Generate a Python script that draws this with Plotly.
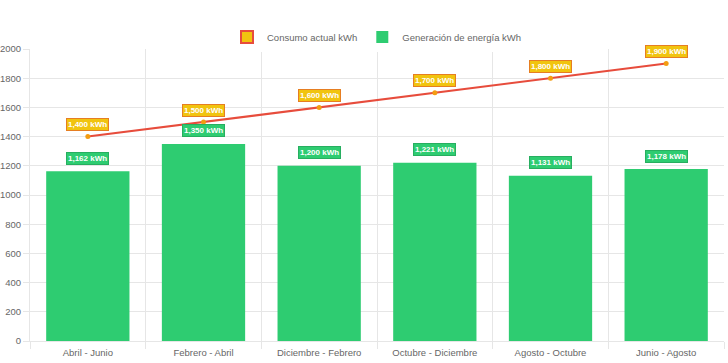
import plotly.graph_objects as go

categories = ["Abril - Junio", "Febrero - Abril", "Diciembre - Febrero",
              "Octubre - Diciembre", "Agosto - Octubre", "Junio - Agosto"]
consumo = [1400, 1500, 1600, 1700, 1800, 1900]
generacion = [1162, 1350, 1200, 1221, 1131, 1178]
y_ticks = [0, 200, 400, 600, 800, 1000, 1200, 1400, 1600, 1800, 2000]

FONT = "Liberation Sans, Arial, sans-serif"
fig = go.Figure()

# legend-only proxy for line series (box style)
fig.add_trace(go.Bar(x=[None], y=[None], name="Consumo actual kWh",
                     marker=dict(color="#f1c40f", line=dict(color="#e74c3c", width=2)),
                     showlegend=True))
fig.add_trace(go.Bar(x=categories, y=generacion, name="Generación de energía kWh",
                     marker=dict(color="#2ecc71", line=dict(width=0)), hoverinfo="x+y"))
fig.add_trace(go.Scatter(x=categories, y=consumo, mode="lines+markers",
                         name="Consumo actual kWh", showlegend=False,
                         line=dict(color="#e74c3c", width=2),
                         marker=dict(color="#f39c12", size=5)))

for c, v in zip(categories, consumo):
    fig.add_annotation(x=c, y=v, text=f"<b>{v:,} kWh</b>", showarrow=False, yshift=12,
                       font=dict(color="white", size=8, family=FONT),
                       bgcolor="#f1c40f", bordercolor="#e67e22", borderwidth=1, borderpad=1)
for c, v in zip(categories, generacion):
    fig.add_annotation(x=c, y=v, text=f"<b>{v:,} kWh</b>", showarrow=False, yshift=13,
                       font=dict(color="white", size=8, family=FONT),
                       bgcolor="#2ecc71", bordercolor="#27ae60", borderwidth=1, borderpad=1)

fig.update_layout(
    width=728, height=363,
    margin=dict(l=30, r=4, t=49, b=22, autoexpand=False),
    paper_bgcolor="white", plot_bgcolor="white",
    barmode="overlay", bargap=0.28,
    font=dict(family=FONT, size=9.5, color="#666"),
    legend=dict(orientation="h", x=0.5, xanchor="center", y=1.041, yanchor="middle",
                font=dict(size=9.5, color="#666"), traceorder="normal"),
    showlegend=True,
)
fig.update_xaxes(type="category", tickson="boundaries", ticks="outside", ticklen=7,
                 tickcolor="#e6e6e6", showgrid=True, gridcolor="#e6e6e6", automargin=False,
                 showline=True, linecolor="#e6e6e6", tickfont=dict(size=9.5, color="#666"),
                 ticklabelstandoff=3, range=[-0.5, 5.5])
fig.update_yaxes(range=[0, 2000], tickvals=y_ticks, showgrid=True, gridcolor="#e6e6e6",
                 zeroline=False, showline=True, linecolor="#e6e6e6", ticks="outside",
                 automargin=False,
                 ticklen=6, tickcolor="#e6e6e6", tickfont=dict(size=9.5, color="#666"))

fig.write_html("out.html", config={"displayModeBar": False},
               post_script="document.body.style.margin='0';")
